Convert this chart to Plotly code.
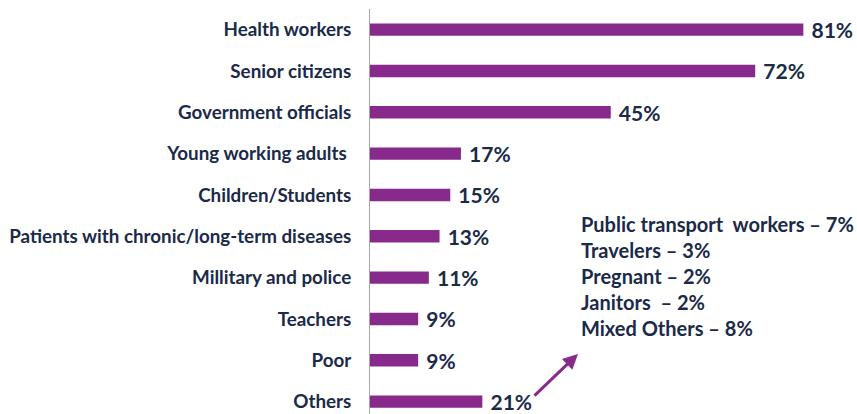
import plotly.graph_objects as go

# Share of respondents naming each group as a vaccination priority
groups = [
    "Health workers",
    "Senior citizens",
    "Government officials",
    "Young working adults ",
    "Children/Students",
    "Patients with chronic/long-term diseases",
    "Millitary and police",
    "Teachers",
    "Poor",
    "Others",
]
shares = [81, 72, 45, 17, 15, 13, 11, 9, 9, 21]

# Breakdown of the "Others" group
other_lines = [
    "Public transport  workers \u2013 7%",
    "Travelers \u2013 3%",
    "Pregnant \u2013 2%",
    "Janitors  \u2013 2%",
    "Mixed Others \u2013 8%",
]

PURPLE = "#872A8C"
NAVY = "#1A2A48"
FONT = "Lato"

W, H = 857, 414
LEFT, TOP = 370, 9

fig = go.Figure(
    go.Bar(
        x=shares,
        y=groups,
        orientation="h",
        width=0.3,
        marker=dict(color=PURPLE, line=dict(width=0)),
        text=[f"{v}%" for v in shares],
        texttemplate=" %{text}",
        textposition="outside",
        constraintext="none",
        textfont=dict(family=FONT, size=21, color=NAVY, weight="bold"),
        cliponaxis=False,
        hoverinfo="skip",
    )
)

plot_w = W - LEFT
px_per_unit = 5.35
fig.update_xaxes(
    range=[0, plot_w / px_per_unit],
    visible=False,
)
fig.update_yaxes(
    type="category",
    range=[9.3, -0.5],
    showline=True,
    linecolor="#A6A6A6",
    linewidth=1,
    showgrid=False,
    zeroline=False,
    ticks="",
    ticklabelstandoff=14,
    tickfont=dict(family=FONT, size=18.8, color=NAVY, weight="bold"),
)

# Breakdown text block
line_y0 = 224
line_step = 26
plot_h = H - TOP
for i, line in enumerate(other_lines):
    ypix = line_y0 + i * line_step
    fig.add_annotation(
        x=(579 - LEFT) / plot_w,
        y=(H - ypix) / plot_h,
        xref="paper",
        yref="paper",
        xanchor="left",
        yanchor="middle",
        text=line,
        showarrow=False,
        font=dict(family=FONT, size=20, color=NAVY, weight="bold"),
    )

# Arrow pointing from the "Others" bar to the breakdown
fig.add_annotation(
    x=(578 - LEFT) / plot_w,
    y=(H - 354) / plot_h,
    xref="paper",
    yref="paper",
    ax=-45,
    ay=43,
    text="",
    showarrow=True,
    arrowhead=2,
    arrowsize=1,
    arrowwidth=3,
    arrowcolor=PURPLE,
)

fig.update_layout(
    width=W,
    height=H,
    margin=dict(l=LEFT, r=0, t=TOP, b=0),
    paper_bgcolor="white",
    plot_bgcolor="white",
    showlegend=False,
    bargap=0.7,
)

fig.write_html("out.html")
